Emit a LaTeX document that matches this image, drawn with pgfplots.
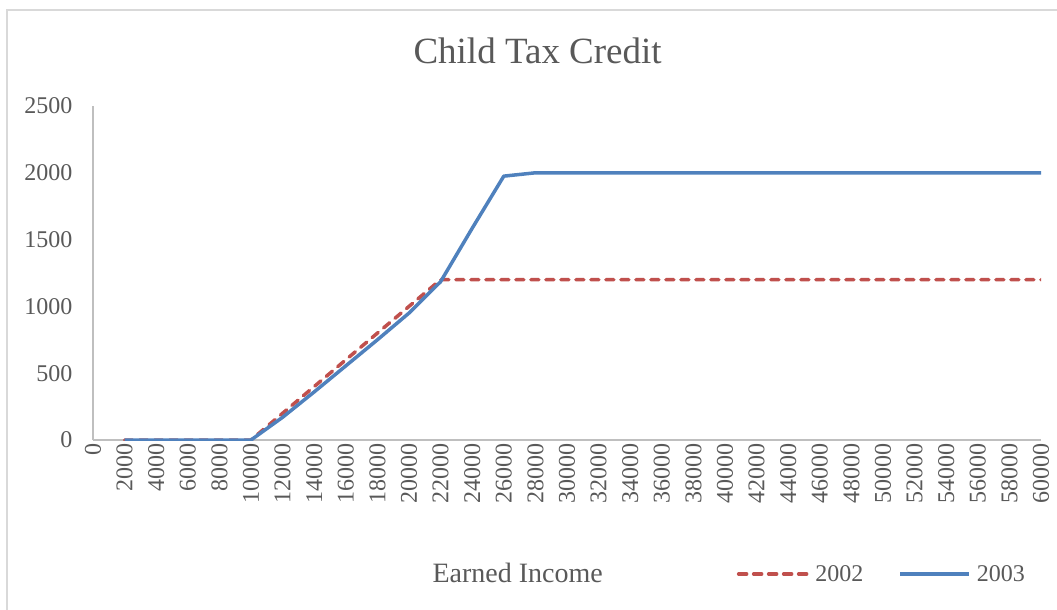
\documentclass[border=0pt]{standalone}
\usepackage{pgfplots}
\pgfplotsset{compat=1.18}
\usepackage{pgfplotstable}
\usepackage{fontspec}
\setmainfont{Liberation Serif}
\definecolor{txtgray}{HTML}{595959}
\definecolor{axgray}{HTML}{BFBFBF}
\definecolor{framegray}{HTML}{D9D9D9}
\definecolor{cred}{HTML}{C0504D}
\definecolor{cblue}{HTML}{4F81BD}
\pgfplotstableread{
x y2002 y2003
2000 0 0
4000 0 0
6000 0 0
8000 0 0
10000 0 0
12000 200 170
14000 400 360
16000 600 555
18000 800 750
20000 1000 950
22000 1200 1185
24000 1200 1585
26000 1200 1975
28000 1200 2000
30000 1200 2000
32000 1200 2000
34000 1200 2000
36000 1200 2000
38000 1200 2000
40000 1200 2000
42000 1200 2000
44000 1200 2000
46000 1200 2000
48000 1200 2000
50000 1200 2000
52000 1200 2000
54000 1200 2000
56000 1200 2000
58000 1200 2000
60000 1200 2000
}\datatable
\begin{document}
\begin{tikzpicture}
\path[use as bounding box] (-93pt,-170pt) rectangle (964pt,440pt);
\draw[framegray, line width=1.5pt] (-86pt,-175pt) -- (-86pt,430pt) -- (970pt,430pt);
\begin{axis}[
  at={(0pt,0pt)}, anchor=origin,
  scale only axis,
  width=948pt, height=334pt,
  xmin=0, xmax=60000, ymin=0, ymax=2500,
  axis lines*=left,
  axis line style={axgray, line width=1.2pt},
  every axis plot/.append style={line width=3.5pt},
  xtick={0,2000,...,60000},
  ytick={0,500,...,2500},
  major tick length=0pt,
  tick style={draw=none},
  scaled ticks=false,
  /pgf/number format/assume math mode=true,
  /pgf/number format/1000 sep={},
  xticklabel style={rotate=90, anchor=east, font=\fontsize{24}{28}\selectfont, text=txtgray},
  yticklabel style={font=\fontsize{24}{28}\selectfont, text=txtgray},
  yticklabel shift=17pt,
  xticklabel shift=0pt,
  title={Child Tax Credit},
  title style={at={(axis description cs:0.469,1.147)}, anchor=center, font=\fontsize{37}{42}\selectfont, text=txtgray},
  xlabel={Earned Income},
  xlabel style={at={(axis description cs:0.448,-0.398)}, anchor=center, font=\fontsize{28}{32}\selectfont, text=txtgray},
  legend columns=2,
  legend style={at={(axis description cs:0.679,-0.401)}, anchor=west, draw=none, fill=none,
    font=\fontsize{24}{28}\selectfont, text=txtgray, inner sep=0pt,
    /tikz/every odd column/.append style={column sep=4pt},
    /tikz/every even column/.append style={column sep=33pt}},
  legend cell align=left,
  legend image code/.code={\draw[#1] (0pt,0pt) -- (69pt,0pt);},
]
\addplot[cred, line cap=round, dash pattern=on 8pt off 7pt] table[x=x, y=y2002] {\datatable};
\addlegendentry{2002}
\addplot[cblue, line join=round] table[x=x, y=y2003] {\datatable};
\addlegendentry{2003}
\end{axis}
\end{tikzpicture}
\end{document}
